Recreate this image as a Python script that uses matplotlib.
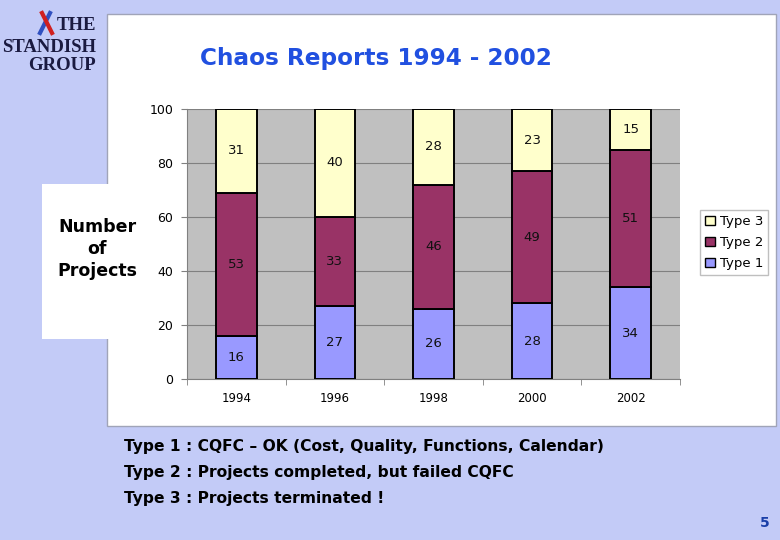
import matplotlib
matplotlib.use("Agg")
import matplotlib.pyplot as plt
from matplotlib.patches import Rectangle, Patch
import numpy as np

years = ["1994", "1996", "1998", "2000", "2002"]
type1 = [16, 27, 26, 28, 34]
type2 = [53, 33, 46, 49, 51]
type3 = [31, 40, 28, 23, 15]
yticks = [0, 20, 40, 60, 80, 100]
notes = ["Type 1 : CQFC \u2013 OK (Cost, Quality, Functions, Calendar)",
         "Type 2 : Projects completed, but failed CQFC",
         "Type 3 : Projects terminated !"]

BG, BLUE, NAVY = "#C3CBF7", "#2150E0", "#1A1A40"
C1, C2, C3 = "#9999FF", "#993366", "#FFFFCC"
plt.rcParams["font.family"] = ["DejaVu Sans"]

fig = plt.figure(figsize=(7.8, 5.4), dpi=100)
fig.patch.set_facecolor(BG)

def px(x, y, w, h):
    # pixel box (from top-left) -> figure fractions
    return (x / 780, 1 - (y + h) / 540, w / 780, h / 540)

# white panel + side box
p = px(107, 14, 669, 412)
fig.patches.append(Rectangle(p[:2], p[2], p[3], transform=fig.transFigure,
                             facecolor="white", edgecolor="#A0A4B8", lw=1.0, zorder=0))
p = px(42, 184, 70, 155)
fig.patches.append(Rectangle(p[:2], p[2], p[3], transform=fig.transFigure,
                             facecolor="white", edgecolor="none", lw=0, zorder=1))

fig.text(376 / 780, 1 - 58 / 540, "Chaos Reports 1994 - 2002", color=BLUE,
         fontsize=16.7, fontweight="bold", ha="center", va="center")
fig.text(97 / 780, 1 - 249 / 540, "Number\nof\nProjects", fontsize=12.5,
         fontweight="bold", ha="center", va="center", linespacing=1.3)

# logo
for txt, y in [("THE", 26), ("STANDISH", 47), ("GROUP", 66)]:
    fig.text(96 / 780, 1 - y / 540, txt, family="Liberation Serif", fontweight="bold",
             fontsize=13.5, color=NAVY, ha="right", va="center")
fig.lines.append(plt.Line2D([40 / 780, 50 / 780], [1 - 33 / 540, 1 - 13 / 540],
                            transform=fig.transFigure, color="#3050C0", lw=3))
fig.lines.append(plt.Line2D([42 / 780, 52 / 780], [1 - 13 / 540, 1 - 33 / 540],
                            transform=fig.transFigure, color="#D02020", lw=3))

ax = fig.add_axes(px(187, 109, 493, 270))
ax.set_zorder(5)
ax.set_facecolor("#C0C0C0")
x = np.arange(len(years))
w = 0.41
b1 = np.array(type1)
b2 = b1 + np.array(type2)
ax.bar(x, type1, w, color=C1, edgecolor="black", lw=1.4, zorder=3)
ax.bar(x, type2, w, bottom=b1, color=C2, edgecolor="black", lw=1.4, zorder=3)
ax.bar(x, type3, w, bottom=b2, color=C3, edgecolor="black", lw=1.4, zorder=3)
for i in range(len(years)):
    ax.text(x[i], type1[i] / 2, str(type1[i]), ha="center", va="center", fontsize=9.5, color="#111111", zorder=4)
    ax.text(x[i], b1[i] + type2[i] / 2, str(type2[i]), ha="center", va="center", fontsize=9.5, color="#111111", zorder=4)
    ax.text(x[i], b2[i] + type3[i] / 2, str(type3[i]), ha="center", va="center", fontsize=9.5, color="#111111", zorder=4)

ax.set_xlim(-0.5, len(years) - 0.5)
ax.set_ylim(0, 100)
ax.set_yticks(yticks)
ax.set_yticklabels([str(v) for v in yticks], fontsize=9)
ax.set_xticks(x)
ax.set_xticklabels(years, fontsize=8.5)
ax.set_xticks(np.arange(-0.5, len(years)), minor=True)
ax.tick_params(axis="x", which="major", length=0, pad=9)
ax.tick_params(axis="x", which="minor", length=4, color="#808080")
ax.tick_params(axis="y", length=4, color="#808080", pad=6)
ax.grid(axis="y", color="#808080", lw=0.8, zorder=1)
for s in ["top", "right"]:
    ax.spines[s].set_visible(False)
for s in ["left", "bottom"]:
    ax.spines[s].set_color("#808080")

handles = [Patch(facecolor=C3, edgecolor="black", label="Type 3"),
           Patch(facecolor=C2, edgecolor="black", label="Type 2"),
           Patch(facecolor=C1, edgecolor="black", label="Type 1")]
leg = fig.legend(handles=handles, loc="upper left", bbox_to_anchor=(700 / 780, 1 - 210 / 540),
                 fontsize=9.5, frameon=True, fancybox=False, edgecolor="#B0B0B0",
                 handlelength=0.7, handleheight=0.7, handletextpad=0.4, labelspacing=0.6,
                 borderpad=0.4, borderaxespad=0)
leg.set_zorder(6)

for i, t in enumerate(notes):
    fig.text(124 / 780, 1 - (447 + 25.5 * i) / 540, t, fontsize=11.2, fontweight="bold",
             ha="left", va="center", color="black")
fig.text(765 / 780, 1 - 523 / 540, "5", fontsize=10, fontweight="bold", color="#1A3FA8",
         ha="center", va="center")

fig.savefig("out.png", dpi=100, facecolor=BG)
